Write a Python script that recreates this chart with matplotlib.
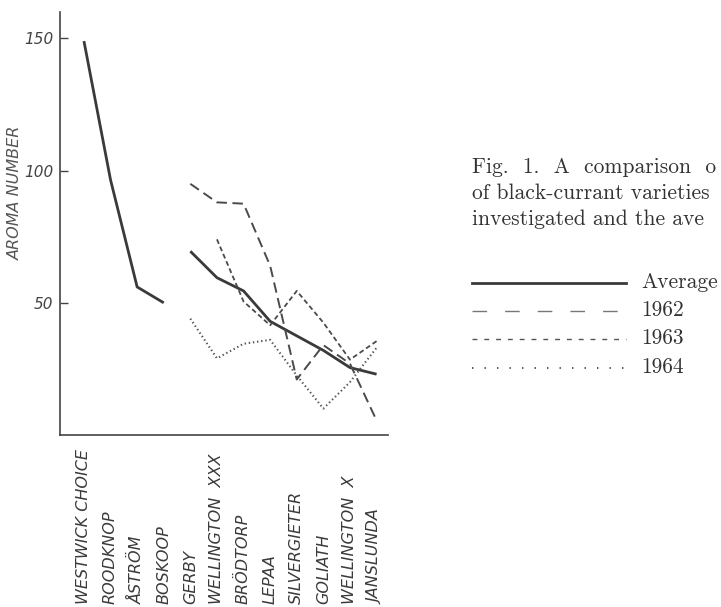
import matplotlib
matplotlib.use("Agg")
import matplotlib.pyplot as plt
from matplotlib.lines import Line2D
import numpy as np

plt.rcParams['lines.scale_dashes'] = False

categories = ["WESTWICK CHOICE", "ROODKNOP", "ÅSTRÖM", "BOSKOOP", "GERBY",
              "WELLINGTON  XXX", "BRÖDTORP", "LEPAA", "SILVERGIETER",
              "GOLIATH", "WELLINGTON  X", "JANSLUNDA"]

# Average over the first group (first four varieties)
avg_group1 = [149, 96.5, 56, 50]
# Second group: GERBY .. JANSLUNDA
avg_group2 = [69.5, 59.5, 54.5, 43, 37.5, 32, 25.5, 23]
y1962 = [95, 88, 87.5, 64, 21, 34, 27, 5.5]
y1963 = [None, 74, 50.5, 41.5, 54.5, 42.5, 28.5, 35.5]
y1964 = [44, 29, 34.5, 36, 22.5, 10, 20, 33]

yticks = [50, 100, 150]
caption = ["Fig.  1.  A  comparison  o",
           "of black-currant varieties",
           "investigated and the ave"]
legend_labels = ["Average", "1962", "1963", "1964"]

W, H = 721, 607
fig = plt.figure(figsize=(W / 100, H / 100), dpi=100)
ax = fig.add_axes([60 / W, 1 - 435 / H, (388 - 60) / W, (435 - 12) / H])

ink = "#3a3a3a"
x_all = np.arange(len(categories))
x1 = x_all[:4]
x2 = x_all[4:]

ax.plot(x1, avg_group1, color=ink, lw=2.0, solid_capstyle='butt')
ax.plot(x2, avg_group2, color=ink, lw=2.0, solid_capstyle='butt')
ax.plot(x2, y1962, color="#4a4a4a", lw=1.4, dashes=(7.5, 4.0))
y63 = np.array([np.nan if v is None else v for v in y1963], dtype=float)
ax.plot(x2, y63, color="#4a4a4a", lw=1.3, dashes=(3.5, 2.2))
ax.plot(x2, y1964, color="#555555", lw=1.5, dashes=(1.0, 2.0))

ax.set_xlim(-0.9, 11.43)
ax.set_ylim(0, 160)
ax.spines['top'].set_visible(False)
ax.spines['right'].set_visible(False)
for s in ['left', 'bottom']:
    ax.spines[s].set_color("#444444")
    ax.spines[s].set_linewidth(1.2)

ax.set_yticks(yticks)
ax.set_yticklabels([str(v) for v in yticks], fontstyle='italic',
                   fontsize=11, color="#444444")
ax.tick_params(axis='y', direction='in', length=6, width=1.0,
               color="#444444", pad=5)

ax.set_xticks(x_all)
ax.set_xticklabels(categories, rotation=90, fontstyle='italic',
                   fontsize=11.5, color="#3a3a3a", va='bottom', ha='center')
ax.tick_params(axis='x', length=0, pad=122)

fig.text(15 / W, 1 - 193 / H, "AROMA NUMBER", rotation=90, ha='center',
         va='center', fontstyle='italic', fontsize=11.5, color="#555555")

# Caption
serif = ['cmr10', 'DejaVu Serif']
for i, line in enumerate(caption):
    fig.text(472 / W, 1 - (167 + 26 * i) / H, line, ha='left', va='center',
             fontsize=15.5, family=serif, color="#333333")

# Legend (drawn manually to mimic the printed key)
leg_y = [283, 311, 339, 368]
styles = [dict(lw=2.0, color=ink),
          dict(lw=1.0, color="#777777", dashes=(10.5, 13)),
          dict(lw=1.0, color="#555555", dashes=(3.5, 5.0)),
          dict(lw=1.4, color="#555555", dashes=(1.0, 8.0))]
for yy, st, lab in zip(leg_y, styles, legend_labels):
    fig.add_artist(Line2D([472 / W, 626 / W], [1 - yy / H, 1 - yy / H],
                          transform=fig.transFigure, **st))
    fig.text(641 / W, 1 - (yy - 1) / H, lab, ha='left', va='center',
             fontsize=15.5, family=serif, color="#333333")

fig.savefig("out.png", dpi=100)
